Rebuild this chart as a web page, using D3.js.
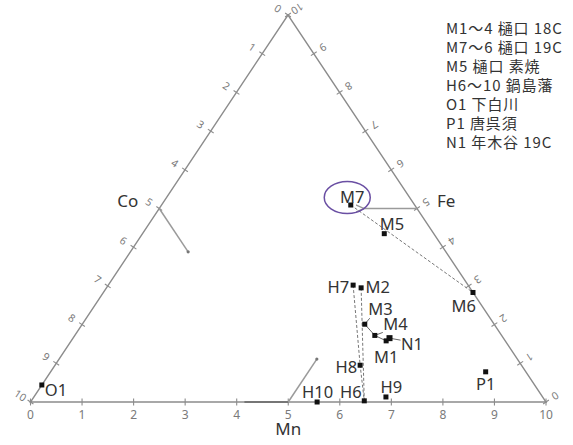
<!DOCTYPE html>
<html>
<head>
<meta charset="utf-8">
<script src="https://cdn.jsdelivr.net/npm/d3@7"></script>
<style>
  html, body { margin: 0; padding: 0; background: #fff; }
  svg { display: block; }
</style>
</head>
<body>
<svg id="chart" width="573" height="445"></svg>
<script>
// Ternary composition (Mn + Fe + Co = 10) for each sample
const sampleNames = ["O1", "M7", "M5", "M6", "H7", "M2", "M3", "M4", "M1", "N1", "H8", "H6", "H9", "H10", "P1"];
const mnValues    = [0.00, 3.67, 4.69, 7.17, 4.75, 4.94, 5.48, 5.82, 6.11, 6.14, 5.92, 6.46, 6.83, 5.56, 8.44];
const feValues    = [0.44, 5.09, 4.35, 2.83, 3.02, 2.95, 2.01, 1.72, 1.58, 1.65, 0.95, 0.03, 0.13, 0.00, 0.78];
const coValues    = [9.56, 1.24, 0.96, 0.00, 2.23, 2.11, 2.51, 2.46, 2.31, 2.21, 3.13, 3.51, 3.04, 4.44, 0.78];

const tickValues = [0, 1, 2, 3, 4, 5, 6, 7, 8, 9, 10];
const axisNames = ["Mn", "Co", "Fe"];

const legendLines = [
  "M1～4 樋口 18C",
  "M7～6 樋口 19C",
  "M5 樋口 素焼",
  "H6～10 鍋島藩",
  "O1 下白川",
  "P1 唐呉須",
  "N1 年木谷 19C"
];

// Sample groups joined by dashed and solid connectors
const dashedPaths = [["M7", "M6"], ["H7", "H8", "H6"], ["M2", "H6"]];
const solidPaths = [["M3", "M4", "M1"]];

// ---------- layout ----------
const corner = { left: { x: 30.5, y: 402 }, right: { x: 546, y: 402 }, top: { x: 288, y: 15 } };

const mnX = d3.scaleLinear().domain([0, 10]).range([0, corner.right.x - corner.left.x]);
const feX = d3.scaleLinear().domain([0, 10]).range([0, corner.top.x - corner.left.x]);
const feY = d3.scaleLinear().domain([0, 10]).range([corner.left.y, corner.top.y]);

function project(mn, fe, co) {
  const s = (mn + fe + co) / 10;
  const m = mn / s, f = fe / s;
  return [corner.left.x + mnX(m) + feX(f), feY(f)];
}

const samples = sampleNames.map((name, i) => {
  const [x, y] = project(mnValues[i], feValues[i], coValues[i]);
  return { name, x, y };
});
const byName = Object.fromEntries(samples.map(d => [d.name, d]));

// label placement relative to each marker: [dx, dy, anchor]
const labelPlacement = {
  O1: [3, 11, "start"], M7: [1.5, -2, "middle"], M5: [-4.5, -3.5, "start"],
  M6: [3, 20, "end"], H7: [-4, 8, "end"], M2: [4.5, 5.5, "start"],
  M3: [3.5, -9.5, "start"], M4: [8.5, -5, "start"], M1: [0, 22.5, "middle"],
  N1: [11.5, 11.5, "start"], H8: [-3, 8, "end"], H6: [-2.5, -2.5, "end"],
  H9: [5.5, -4, "middle"], H10: [0.5, -4, "middle"], P1: [0, 18, "middle"]
};

const svg = d3.select("#chart");
const axisColor = "#8c8c8c";
const labelFont = "'Noto Sans', 'Open Sans', sans-serif";

svg.append("defs").append("marker")
  .attr("id", "arrowHead")
  .attr("viewBox", "0 0 10 10")
  .attr("refX", 2).attr("refY", 5)
  .attr("markerWidth", 6).attr("markerHeight", 6)
  .attr("orient", "auto")
  .append("path")
  .attr("d", "M10,1 L1,5 L10,9")
  .attr("fill", "none")
  .attr("stroke", "#999")
  .attr("stroke-width", 1.4);

// ---------- triangle and ticks ----------
const gAxes = svg.append("g");
gAxes.append("path")
  .attr("d", `M${corner.left.x},${corner.left.y}L${corner.right.x},${corner.right.y}L${corner.top.x},${corner.top.y}Z`)
  .attr("fill", "none")
  .attr("stroke", axisColor)
  .attr("stroke-width", 1.4);

function unit(dx, dy) { const l = Math.hypot(dx, dy); return [dx / l, dy / l]; }
const leftDir = unit(corner.top.x - corner.left.x, corner.top.y - corner.left.y);
const rightDir = unit(corner.right.x - corner.top.x, corner.right.y - corner.top.y);
const leftNormal = [leftDir[1], -leftDir[0]];    // pointing outward (up-left)
const rightNormal = [rightDir[1], -rightDir[0]]; // pointing outward (up-right)
const deg = r => r * 180 / Math.PI;

const sides = [
  { pos: t => project(t, 0, 10 - t), normal: [0, 1], offset: 12, rot: 0 },
  { pos: t => project(0, 10 - t, t), normal: leftNormal, offset: 12,
    rot: deg(Math.atan2(leftNormal[1], leftNormal[0])) + 180 },
  { pos: t => project(10 - t, t, 0), normal: rightNormal, offset: 11,
    rot: deg(Math.atan2(rightNormal[1], rightNormal[0])) + 180 }
];

sides.forEach((side, si) => {
  const g = gAxes.append("g");
  g.selectAll("line.tick")
    .data(tickValues)
    .join("line")
    .attr("class", "tick")
    .attr("x1", t => side.pos(t)[0] - side.normal[0] * 3.5)
    .attr("y1", t => side.pos(t)[1] - side.normal[1] * 3.5)
    .attr("x2", t => side.pos(t)[0] + side.normal[0] * 3.5)
    .attr("y2", t => side.pos(t)[1] + side.normal[1] * 3.5)
    .attr("stroke", axisColor)
    .attr("stroke-width", 1.1);
  g.selectAll("text")
    .data(tickValues)
    .join("text")
    .attr("transform", t => {
      const [x, y] = side.pos(t);
      const lx = x + side.normal[0] * side.offset, ly = y + side.normal[1] * side.offset;
      return `translate(${lx},${ly}) rotate(${side.rot})`;
    })
    .attr("text-anchor", "middle")
    .attr("dominant-baseline", "central")
    .attr("font-family", labelFont)
    .attr("font-size", si === 0 ? 12 : 10.5)
    .attr("fill", "#7a7a7a")
    .text(t => t);
});

// darker segment on the Mn axis leading to its label tick
const mnLead = [project(4.15, 0, 5.85), project(5, 0, 5)];
gAxes.append("line")
  .attr("x1", mnLead[0][0]).attr("y1", mnLead[0][1])
  .attr("x2", mnLead[1][0]).attr("y2", mnLead[1][1])
  .attr("stroke", "#666").attr("stroke-width", 1.5);

// ---------- reading guides from the mid ticks ----------
const guides = [
  { from: [5, 0, 5], to: [5, 1.11, 3.89], end: "dot" },    // Mn
  { from: [0, 5, 5], to: [1.12, 3.88, 5], end: "dot" },    // Co
  { from: [5, 5, 0], to: [3.95, 5, 1.05], end: "arrow" }   // Fe
];
const gGuides = svg.append("g");
guides.forEach(gd => {
  const a = project(...gd.from), b = project(...gd.to);
  const ln = gGuides.append("line")
    .attr("x1", a[0]).attr("y1", a[1]).attr("x2", b[0]).attr("y2", b[1])
    .attr("stroke", "#9a9a9a").attr("stroke-width", 1.5);
  if (gd.end === "arrow") ln.attr("marker-end", "url(#arrowHead)");
  else gGuides.append("circle").attr("cx", b[0]).attr("cy", b[1]).attr("r", 1.6).attr("fill", "#777");
});

// ---------- connectors ----------
const line = d3.line().x(d => d.x).y(d => d.y);
svg.append("g").selectAll("path")
  .data(dashedPaths)
  .join("path")
  .attr("d", p => line(p.map(n => byName[n])))
  .attr("fill", "none")
  .attr("stroke", "#777")
  .attr("stroke-width", 1)
  .attr("stroke-dasharray", "3,2");

svg.append("g").selectAll("path")
  .data(solidPaths)
  .join("path")
  .attr("d", p => line(p.map(n => byName[n])))
  .attr("fill", "none")
  .attr("stroke", "#666")
  .attr("stroke-width", 1);

// short leaders from markers to crowded labels
const leaders = [["M3", 5, -6], ["M4", 8, -3], ["N1", 11, 2]];
svg.append("g").selectAll("line")
  .data(leaders)
  .join("line")
  .attr("x1", d => byName[d[0]].x).attr("y1", d => byName[d[0]].y)
  .attr("x2", d => byName[d[0]].x + d[1]).attr("y2", d => byName[d[0]].y + d[2])
  .attr("stroke", "#666").attr("stroke-width", 1);

// ---------- markers and labels ----------
svg.append("g").selectAll("rect")
  .data(samples)
  .join("rect")
  .attr("x", d => d.x - (d.name === "N1" ? 3 : 2.5))
  .attr("y", d => d.y - (d.name === "N1" ? 3 : 2.5))
  .attr("width", d => d.name === "N1" ? 6 : 5)
  .attr("height", d => d.name === "N1" ? 6 : 5)
  .attr("fill", "#111");

svg.append("g").selectAll("text")
  .data(samples)
  .join("text")
  .attr("x", d => d.x + labelPlacement[d.name][0])
  .attr("y", d => d.y + labelPlacement[d.name][1])
  .attr("text-anchor", d => labelPlacement[d.name][2])
  .attr("font-family", labelFont)
  .attr("font-size", 16.5)
  .attr("fill", "#333")
  .text(d => d.name);

// highlight ring around M7
svg.append("ellipse")
  .attr("cx", byName.M7.x - 3.5)
  .attr("cy", byName.M7.y - 7.5)
  .attr("rx", 23).attr("ry", 16)
  .attr("fill", "none")
  .attr("stroke", "#6a4fa3")
  .attr("stroke-width", 1.5);

// ---------- axis names ----------
const axisNamePos = [
  { p: project(5, 0, 5), dx: 0, dy: 33, anchor: "middle" },
  { p: project(0, 5, 5), dx: -21, dy: -1.5, anchor: "end" },
  { p: project(5, 5, 0), dx: 20, dy: -1.5, anchor: "start" }
];
svg.append("g").selectAll("text")
  .data(axisNames)
  .join("text")
  .attr("x", (d, i) => axisNamePos[i].p[0] + axisNamePos[i].dx)
  .attr("y", (d, i) => axisNamePos[i].p[1] + axisNamePos[i].dy)
  .attr("text-anchor", (d, i) => axisNamePos[i].anchor)
  .attr("font-family", labelFont)
  .attr("font-size", 17)
  .attr("fill", "#333")
  .text(d => d);

// ---------- legend ----------
svg.append("g")
  .attr("transform", "translate(446,33.5)")
  .selectAll("text")
  .data(legendLines)
  .join("text")
  .attr("x", 0)
  .attr("y", (d, i) => i * 19)
  .attr("font-family", "'Noto Sans CJK JP', 'Noto Sans', sans-serif")
  .attr("font-size", 15)
  .attr("letter-spacing", 0.9)
  .attr("fill", "#333")
  .text(d => d);
</script>
</body>
</html>
